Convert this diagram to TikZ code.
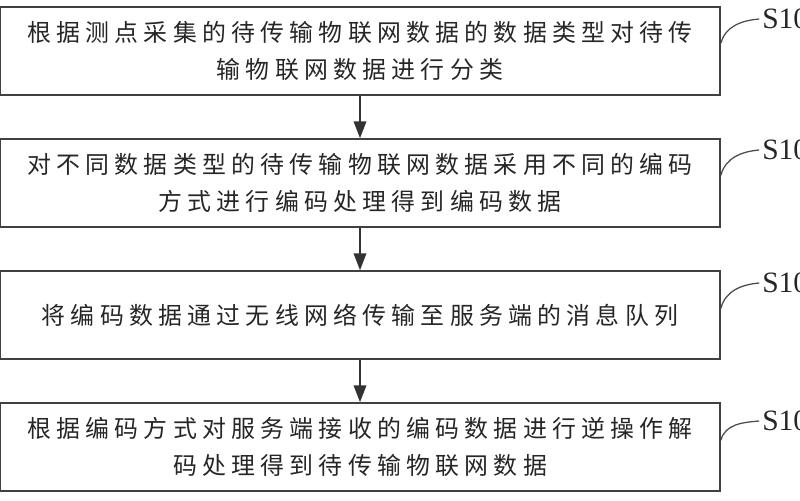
\documentclass[tikz,border=0pt]{standalone}
\usepackage{fontspec}
\usetikzlibrary{arrows.meta}
\newfontfamily\cjk[LetterSpace=22]{Noto Sans CJK SC}
\newfontfamily\stepfont{Liberation Serif}

\begin{document}
\begin{tikzpicture}[x=0.025cm, y=0.025cm,
    stepbox/.style={draw=black!75, line width=1.1pt, minimum width=18cm, minimum height=2.2cm,
        align=center, text=black!85, font=\cjk\fontsize{17}{26.5}\selectfont},
    flow/.style={draw=black!80, line width=1pt, -{Triangle[length=12pt, width=9pt]}},
    steplabel/.style={anchor=west, inner sep=0pt, text=black!85, font=\stepfont\fontsize{21}{24}\selectfont},
    hook/.style={draw=black!70, line width=0.9pt}]
    \useasboundingbox (0, 0) rectangle (800, 500);

    % Boxes
    \node [stepbox] (b1) at (360, 449) {根据测点采集的待传输物联网数据的数据类型对待传\\输物联网数据进行分类};
    \node [stepbox] (b2) at (360, 317) {对不同数据类型的待传输物联网数据采用不同的编码\\方式进行编码处理得到编码数据};
    \node [stepbox] (b3) at (360, 185) {将编码数据通过无线网络传输至服务端的消息队列};
    \node [stepbox] (b4) at (360, 53) {根据编码方式对服务端接收的编码数据进行逆操作解\\码处理得到待传输物联网数据};

    % Arrows
    \draw [flow] (b1) -- (b2);
    \draw [flow] (b2) -- (b3);
    \draw [flow] (b3) -- (b4);

    % Labels
    \node [steplabel] (s1) at (762, 481) {S101};
    \node [steplabel] (s2) at (762, 350) {S102};
    \node [steplabel] (s3) at (762, 217) {S103};
    \node [steplabel] (s4) at (762, 79) {S104};

    \coordinate (h1) at ([yshift=-0.925cm]b1.north east);
    \coordinate (h2) at ([yshift=-0.925cm]b2.north east);
    \coordinate (h3) at ([yshift=-0.95cm]b3.north east);
    \coordinate (h4) at ([yshift=-0.95cm]b4.north east);

    \draw [hook] (h1) to[out=75, in=185] ([xshift=-2pt]s1.west);
    \draw [hook] (h2) to[out=75, in=185] ([xshift=-2pt]s2.west);
    \draw [hook] (h3) to[out=75, in=185] ([xshift=-2pt]s3.west);
    \draw [hook] (h4) to[out=75, in=185] ([xshift=-2pt]s4.west);
\end{tikzpicture}
\end{document}
